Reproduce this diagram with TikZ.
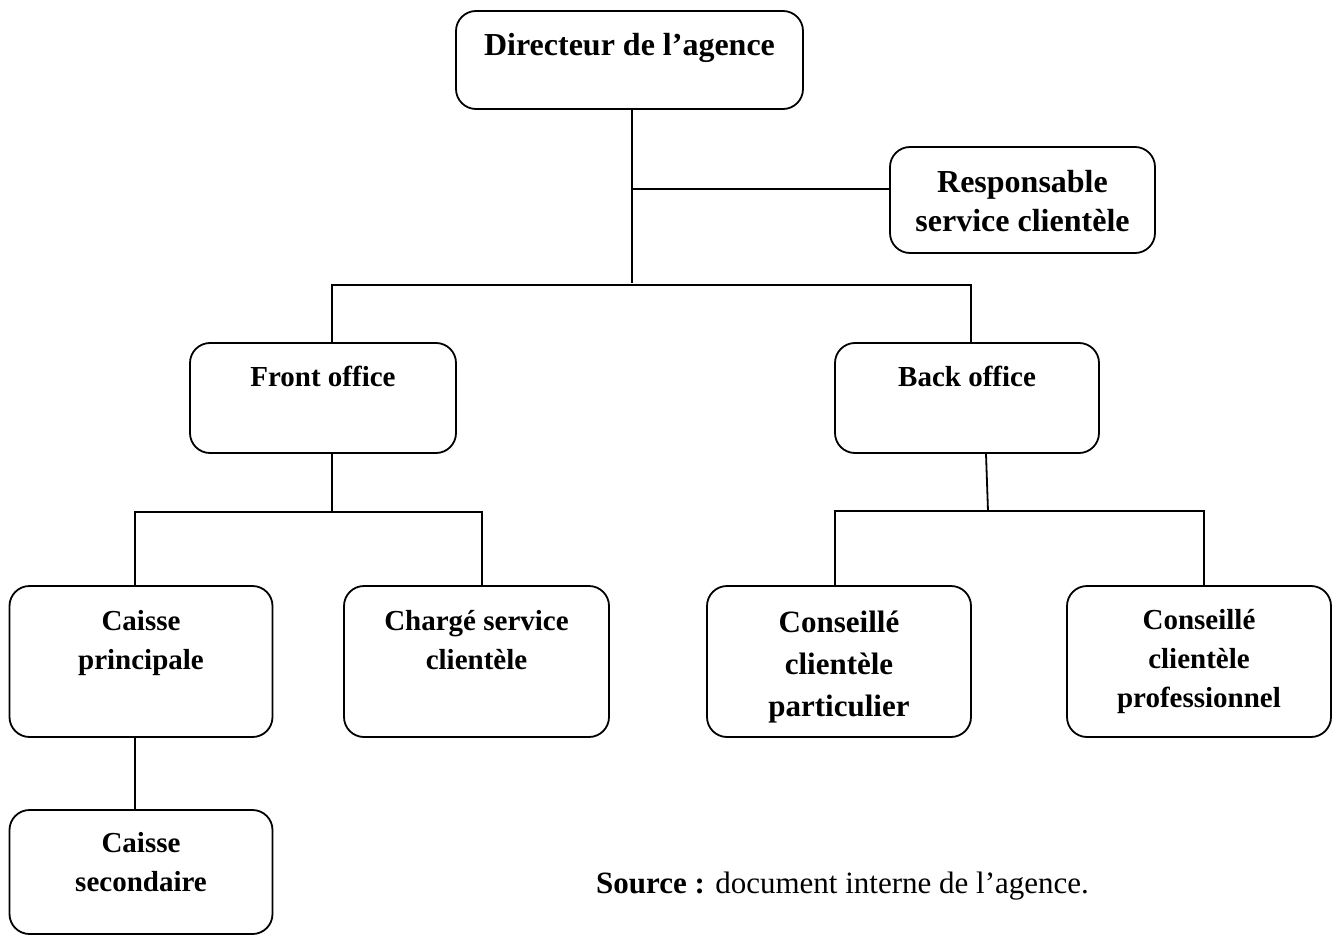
\documentclass[tikz,border=0pt]{standalone}
\usepackage{fontspec}
\setmainfont{Liberation Serif}
\begin{document}
\begin{tikzpicture}[x=1pt,y=-1pt,
  orgbox/.style={draw, line width=1.8pt, rounded corners=20pt, inner sep=0pt},
  conn/.style={line width=1.8pt},
  lbl/.style={anchor=base, align=center, inner sep=0pt, font=\bfseries\fontsize{29}{39}\selectfont}]
\useasboundingbox (0,0) rectangle (1338,936);
% boxes
\node[orgbox, minimum width=347pt, minimum height=98pt]  (dir)    at (629.5,60) {};
\node[orgbox, minimum width=265pt, minimum height=106pt] (resp)   at (1022.5,200) {};
\node[orgbox, minimum width=266pt, minimum height=110pt] (front)  at (323,398) {};
\node[orgbox, minimum width=264pt, minimum height=110pt] (back)   at (967,398) {};
\node[orgbox, minimum width=263pt, minimum height=151pt] (cp)     at (141,661.5) {};
\node[orgbox, minimum width=265pt, minimum height=151pt] (chs)    at (476.5,661.5) {};
\node[orgbox, minimum width=264pt, minimum height=151pt] (ccpart) at (839,661.5) {};
\node[orgbox, minimum width=264pt, minimum height=151pt] (ccpro)  at (1199,661.5) {};
\node[orgbox, minimum width=263pt, minimum height=124pt] (cs)     at (141,872) {};
% texts (base anchor = baseline of the last line)
\node[lbl, font=\bfseries\fontsize{32}{39}\selectfont] (dirT) at ([yshift=-45pt]dir.north) {Directeur de l’agence};
\node[lbl, font=\bfseries\fontsize{32}{39}\selectfont] (respT) at ([yshift=-85pt]resp.north) {Responsable\\service clientèle};
\node[lbl] (frontT) at ([yshift=-44pt]front.north) {Front office};
\node[lbl] (backT) at ([yshift=-44pt]back.north) {Back office};
\node[lbl] (cpT) at ([yshift=-84pt]cp.north) {Caisse\\principale};
\node[lbl] (chsT) at ([yshift=-84pt]chs.north) {Chargé service\\clientèle};
\node[lbl, font=\bfseries\fontsize{31}{42}\selectfont] (ccpartT) at ([yshift=-131pt]ccpart.north) {Conseillé\\clientèle\\particulier};
\node[lbl] (ccproT) at ([yshift=-122pt]ccpro.north) {Conseillé\\clientèle\\professionnel};
\node[lbl] (csT) at ([yshift=-82pt]cs.north) {Caisse\\secondaire};
\node[anchor=base west, inner sep=0pt, font=\fontsize{31}{36}\selectfont] (src) at (596,893) {\textbf{Source :} document interne de l’agence.};
% junction coordinates
\coordinate (dirEnd) at (632,283);
\coordinate (rj) at (632,189);
\coordinate (busL) at (332,285);
\coordinate (busR) at (971,285);
\coordinate (fL) at (135,512);
\coordinate (fR) at (482,512);
\coordinate (bM) at (988,511);
\coordinate (bL) at (835,511);
\coordinate (bR) at (1204,511);
% connectors
\draw[conn] ([xshift=2.5pt]dir.south) -- (dirEnd);
\draw[conn] (rj) -- (rj -| resp.west);
\draw[conn] (front.north -| busL) -- (busL) -- (busR) -- (back.north -| busR);
\draw[conn] ([xshift=9pt]front.south) -- ([xshift=9pt]front.south |- fL);
\draw[conn] (cp.north -| fL) |- (fR) -- (chs.north -| fR);
\draw[conn] ([xshift=19pt]back.south) -- (bM);
\draw[conn] (ccpart.north -| bL) |- (bR) -- (ccpro.north -| bR);
\draw[conn] ([xshift=-6pt]cp.south) -- ([xshift=-6pt]cs.north);
\end{tikzpicture}
\end{document}
